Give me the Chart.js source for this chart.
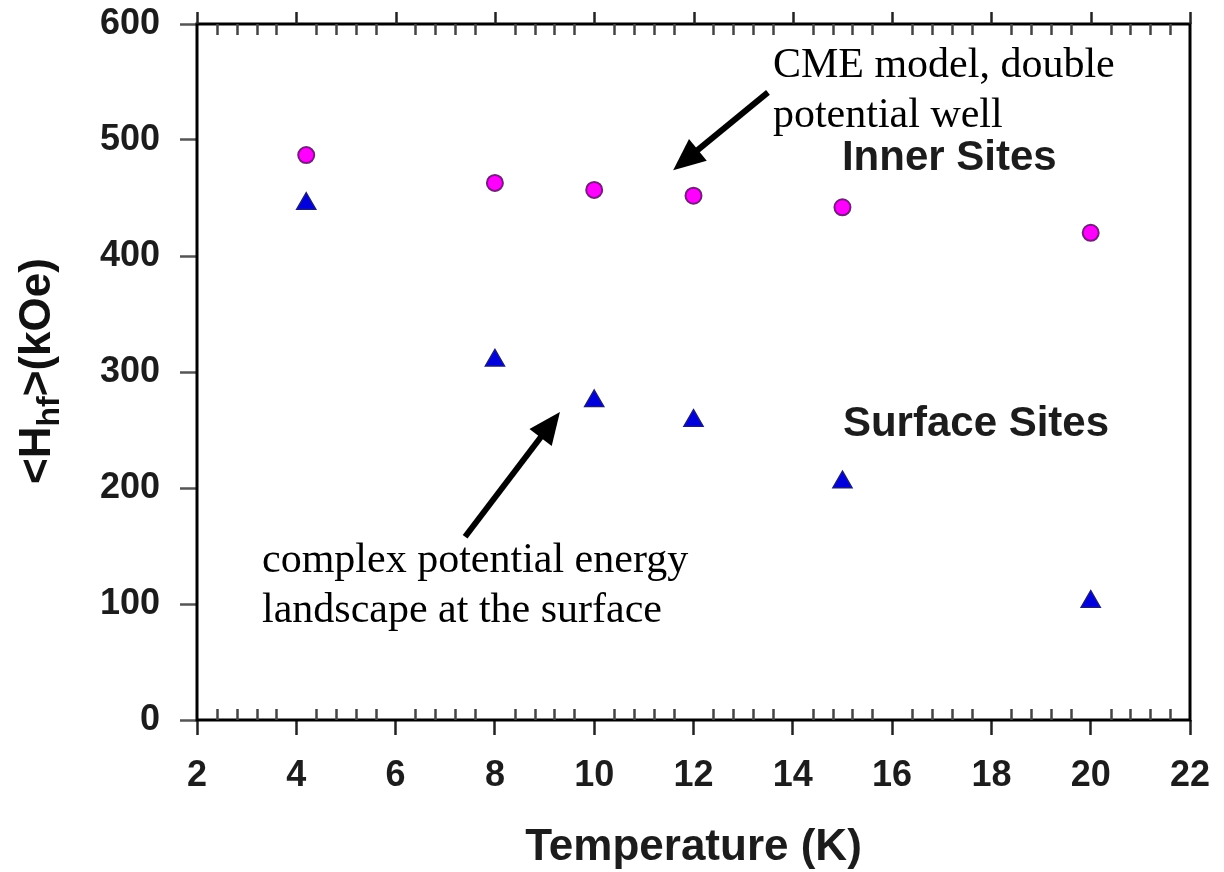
<!DOCTYPE html>
<html>
<head>
<meta charset="utf-8">
<script src="https://cdn.jsdelivr.net/npm/chart.js@4.4.1/dist/chart.umd.min.js"></script>
<style>
  html, body { margin: 0; padding: 0; background: #fff; }
  #chart { display: block; }
</style>
</head>
<body>
<canvas id="chart" width="1224" height="872"></canvas>
<script>
// temperatures (K) and mean hyperfine field <Hhf> (kOe)
const temps = [4.2, 8, 10, 12, 15, 20];
const innerSites = [487, 463, 457, 452, 442, 420];
const surfaceSites = [445, 310, 275, 258, 205, 102];

const xMin = 2, xMax = 22, xStep = 2, xMinorStep = 0.4;
const yMin = 0, yMax = 600, yStep = 100;

// annotations, anchored in data units
const notes = [
  { lines: ['CME model, double', 'potential well'], x: 13.6, y: 554, font: '42px "Liberation Serif"', color: '#000' },
  { lines: ['Inner Sites'], x: 14.99, y: 474, font: 'bold 42px "Liberation Sans"', color: '#1c1c1c' },
  { lines: ['Surface Sites'], x: 15.01, y: 245, font: 'bold 42px "Liberation Sans"', color: '#1c1c1c' },
  { lines: ['complex potential energy', 'landscape at the surface'], x: 3.31, y: 127.6, font: '42px "Liberation Serif"', color: '#000' }
];
const arrows = [
  { from: [13.5, 541], to: [11.59, 474] },
  { from: [7.4, 158], to: [9.31, 265.5] }
];

const toXY = (xs, ys) => xs.map((x, i) => ({ x: x, y: ys[i] }));

const decor = {
  id: 'decor',
  afterDraw(chart) {
    const ctx = chart.ctx;
    const a = chart.chartArea;
    const sx = chart.scales.x, sy = chart.scales.y;
    ctx.save();
    // frame
    ctx.strokeStyle = '#000';
    ctx.lineWidth = 3;
    ctx.strokeRect(a.left, a.top, a.right - a.left, a.bottom - a.top);
    // minor ticks on bottom and top (inside)
    ctx.strokeStyle = '#444';
    ctx.lineWidth = 2.5;
    for (let v = xMin; v < xMax - 1e-6; v += xStep) {
      for (let k = 1; k < xStep / xMinorStep - 0.01; k++) {
        const px = Math.round(sx.getPixelForValue(v + k * xMinorStep)) + 0.5;
        ctx.beginPath();
        ctx.moveTo(px, a.bottom); ctx.lineTo(px, a.bottom - 11);
        ctx.moveTo(px, a.top); ctx.lineTo(px, a.top + 11);
        ctx.stroke();
      }
    }
    // major ticks on top (outside)
    ctx.strokeStyle = '#222';
    for (let v = xMin; v <= xMax + 1e-6; v += xStep) {
      const px = Math.round(sx.getPixelForValue(v)) + 0.5;
      ctx.beginPath();
      ctx.moveTo(px, a.top); ctx.lineTo(px, a.top - 12);
      ctx.stroke();
    }
    // annotation text
    ctx.textAlign = 'left';
    ctx.textBaseline = 'alphabetic';
    notes.forEach(n => {
      ctx.font = n.font;
      ctx.fillStyle = n.color;
      const x0 = sx.getPixelForValue(n.x);
      const y0 = sy.getPixelForValue(n.y);
      n.lines.forEach((t, i) => ctx.fillText(t, x0, y0 + i * 50));
    });
    // arrows
    arrows.forEach(ar => {
      const x1 = sx.getPixelForValue(ar.from[0]), y1 = sy.getPixelForValue(ar.from[1]);
      const x2 = sx.getPixelForValue(ar.to[0]), y2 = sy.getPixelForValue(ar.to[1]);
      const ang = Math.atan2(y2 - y1, x2 - x1);
      const headLen = 32, headW = 14;
      const bx = x2 - headLen * Math.cos(ang), by = y2 - headLen * Math.sin(ang);
      ctx.strokeStyle = '#000';
      ctx.lineWidth = 6;
      ctx.beginPath();
      ctx.moveTo(x1, y1); ctx.lineTo(bx + 4 * Math.cos(ang), by + 4 * Math.sin(ang));
      ctx.stroke();
      ctx.fillStyle = '#000';
      ctx.beginPath();
      ctx.moveTo(x2, y2);
      ctx.lineTo(bx + headW * Math.sin(ang), by - headW * Math.cos(ang));
      ctx.lineTo(bx - headW * Math.sin(ang), by + headW * Math.cos(ang));
      ctx.closePath();
      ctx.fill();
    });
    // y axis title with subscript
    ctx.translate(50, 371);
    ctx.rotate(-Math.PI / 2);
    ctx.fillStyle = '#111';
    const big = 'bold 44px "Liberation Sans"', small = 'bold 32px "Liberation Sans"';
    const parts = [['<H', big, 0], ['hf', small, 9], ['>(kOe)', big, 0]];
    let total = 0;
    parts.forEach(p => { ctx.font = p[1]; total += ctx.measureText(p[0]).width; });
    let cx = -total / 2;
    parts.forEach(p => {
      ctx.font = p[1];
      ctx.fillText(p[0], cx, p[2]);
      cx += ctx.measureText(p[0]).width;
    });
    ctx.restore();
  }
};

new Chart(document.getElementById('chart'), {
  type: 'scatter',
  data: {
    datasets: [
      {
        label: 'Inner Sites',
        data: toXY(temps, innerSites),
        pointStyle: 'circle',
        pointRadius: 8,
        pointBackgroundColor: '#ff00ff',
        pointBorderColor: '#7a1a80',
        pointBorderWidth: 2
      },
      {
        label: 'Surface Sites',
        data: toXY(temps, surfaceSites),
        pointStyle: 'triangle',
        pointRadius: 11,
        pointBackgroundColor: '#0000dd',
        pointBorderColor: '#1a1a80',
        pointBorderWidth: 1.5
      }
    ]
  },
  options: {
    responsive: false,
    animation: false,
    layout: { padding: { top: 24, right: 34, left: 0, bottom: 0 } },
    plugins: {
      legend: { display: false },
      tooltip: { enabled: false }
    },
    scales: {
      x: {
        type: 'linear',
        min: xMin,
        max: xMax,
        ticks: {
          stepSize: xStep,
          padding: 19,
          color: '#1c1c1c',
          font: { family: 'Liberation Sans', weight: 'bold', size: 36 }
        },
        grid: { drawOnChartArea: false, tickLength: 15, tickWidth: 2.5, tickColor: '#222' },
        border: { display: false },
        title: {
          display: true,
          text: 'Temperature (K)',
          color: '#1c1c1c',
          font: { family: 'Liberation Sans', weight: 'bold', size: 44, lineHeight: 1.1 },
          padding: { top: 0, bottom: 0 }
        },
        afterFit(scale) {
          scale.height = 152;
          scale.paddingLeft = 0;
          scale.paddingRight = 0;
        }
      },
      y: {
        type: 'linear',
        min: yMin,
        max: yMax,
        ticks: {
          stepSize: yStep,
          padding: 20,
          color: '#1c1c1c',
          font: { family: 'Liberation Sans', weight: 'bold', size: 36 }
        },
        grid: { drawOnChartArea: false, tickLength: 17, tickWidth: 2.5, tickColor: '#555' },
        border: { display: false },
        afterFit(scale) {
          scale.width = 197;
          scale.paddingTop = 0;
          scale.paddingBottom = 0;
        }
      }
    }
  },
  plugins: [decor]
});
</script>
</body>
</html>
